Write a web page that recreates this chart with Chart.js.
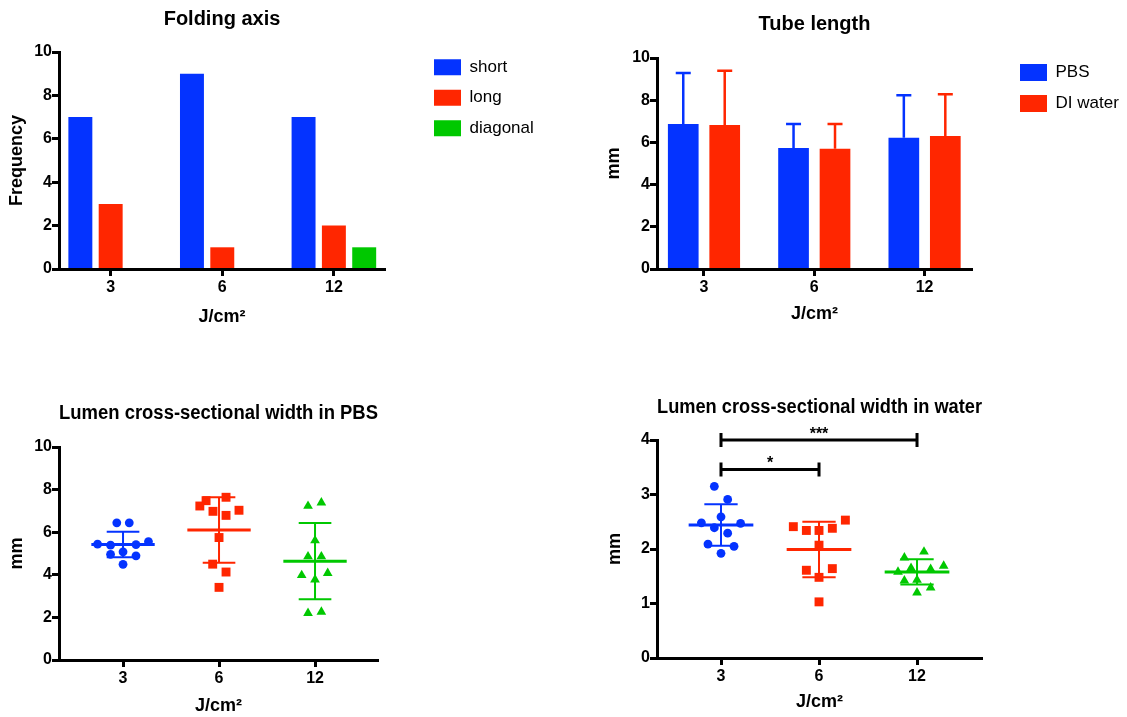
<!DOCTYPE html>
<html>
<head>
<meta charset="utf-8">
<title>Folding axis, tube length and lumen width</title>
<script src="https://cdn.jsdelivr.net/npm/chart.js@4.4.1/dist/chart.umd.min.js"></script>
<style>
  body { margin: 0; background: #fff; }
  #page { position: relative; width: 1127px; height: 717px; }
  canvas { position: absolute; }
</style>
</head>
<body>
<div id="page">
  <canvas id="folding" width="560" height="340" style="left:0;top:0"></canvas>
  <canvas id="tube" width="567" height="340" style="left:560px;top:0"></canvas>
  <canvas id="lumenPbs" width="560" height="347" style="left:0;top:370px"></canvas>
  <canvas id="lumenWater" width="567" height="347" style="left:560px;top:370px"></canvas>
</div>
<script>
const doses = ['3', '6', '12'];

// Folding axis (counts)
const foldShort = [7, 9, 7];
const foldLong = [3, 1, 2];
const foldDiagonal = [0, 0, 1];

// Tube length (mm), mean and upper SD
const tubePbs = [6.87, 5.73, 6.22];
const tubePbsSd = [2.42, 1.14, 2.02];
const tubeWater = [6.83, 5.70, 6.30];
const tubeWaterSd = [2.56, 1.17, 1.98];

// Lumen width in PBS (mm) + horizontal spread inside each group
const pbsWidth3 = [6.44, 6.44, 5.44, 5.39, 5.42, 5.56, 4.96, 5.08, 4.89, 4.49];
const pbsSpread3 = [-0.065, 0.065, -0.265, -0.13, 0.135, 0.265, -0.13, 0, 0.135, 0];
const pbsWidth6 = [7.48, 7.23, 7.64, 6.98, 6.79, 7.03, 5.75, 4.50, 4.13, 3.41];
const pbsSpread6 = [-0.135, -0.2, 0.073, -0.063, 0.073, 0.208, 0, -0.066, 0.073, 0];
const pbsWidth12 = [7.23, 7.39, 5.61, 4.86, 4.86, 3.98, 4.08, 3.77, 2.20, 2.26];
const pbsSpread12 = [-0.073, 0.066, 0, -0.073, 0.066, -0.139, 0.132, 0, -0.073, 0.066];
const pbsMean = [5.42, 6.10, 4.64];
const pbsSd = [0.60, 1.54, 1.79];

// Lumen width in water (mm)
const waterWidth3 = [3.15, 2.91, 2.59, 2.48, 2.47, 2.39, 2.29, 2.09, 2.05, 1.92];
const waterSpread3 = [-0.068, 0.068, 0, -0.2, 0.2, -0.068, 0.068, -0.133, 0.133, 0];
const waterWidth6 = [2.53, 2.41, 2.34, 2.34, 2.38, 2.07, 1.61, 1.64, 1.48, 1.03];
const waterSpread6 = [0.269, -0.262, -0.129, 0, 0.136, 0, -0.129, 0.136, 0, 0];
const waterWidth12 = [1.95, 1.84, 1.69, 1.65, 1.63, 1.58, 1.42, 1.43, 1.29, 1.20];
const waterSpread12 = [0.071, -0.129, 0.272, -0.061, 0.139, -0.194, -0.129, 0, 0.139, 0];
const waterMean = [2.44, 1.99, 1.58];
const waterSd = [0.38, 0.51, 0.23];

// significance brackets (water)
const sigFrom = [0, 0];
const sigTo = [2, 1];
const sigLevel = [4.0, 3.46];
const sigText = ['***', '*'];

const BLUE = '#0433ff';
const RED = '#ff2600';
const GREEN = '#00c800';
const FONT = "'Liberation Sans', Arial, Helvetica, sans-serif";

Chart.defaults.font.family = FONT;
Chart.defaults.color = '#000';
Chart.defaults.animation = false;

function yAxis(max, step, axisWidth, titleText, titlePad) {
    return {
        min: 0,
        max: max,
        ticks: { stepSize: step, padding: 0, font: { size: 16, weight: 'bold' } },
        grid: { drawOnChartArea: false, tickLength: 7, tickWidth: 3, tickColor: '#000' },
        border: { color: '#000', width: 3, z: 1 },
        title: { display: true, text: titleText, font: { size: 18, weight: 'bold' }, padding: { top: titlePad, bottom: 0 } },
        afterFit: (s) => { s.width = axisWidth; }
    };
}

function xAxis(min, max, axisHeight, titlePad) {
    return {
        type: 'linear',
        min: min,
        max: max,
        offset: false,
        afterBuildTicks: (s) => { s.ticks = doses.map((d, i) => ({ value: i })); },
        ticks: { padding: 2, font: { size: 16, weight: 'bold' }, callback: (v) => doses[v] },
        grid: { offset: false, drawOnChartArea: false, tickLength: 7, tickWidth: 3, tickColor: '#000' },
        border: { color: '#000', width: 3, z: 1 },
        title: { display: true, text: 'J/cm²', font: { size: 18, weight: 'bold' }, padding: { top: 0, bottom: titlePad } },
        afterFit: (s) => { s.height = axisHeight; }
    };
}

function titleOpts(text, top, bottom) {
    return { display: true, text: text, fullSize: false, font: { size: 20, weight: 'bold' }, padding: { top: top, bottom: bottom } };
}

// put the legend (drawn by chart.js) at a fixed place right of the plot
function legendAt(x, y) {
    return {
        id: 'legendAt',
        afterLayout(chart) {
            const lg = chart.legend;
            lg.left = x; lg.right = x + 200;
            lg.top = y; lg.bottom = y + 150;
        }
    };
}

function toXY(vals) {
    return vals.map((v, i) => ({ x: i, y: v }));
}

function spreadXY(vals, spread, cat) {
    return vals.map((v, k) => ({ x: cat + spread[k], y: v }));
}

// upward error bars with caps on top of bars
function errorBarsPlugin(sds) {
    return {
        id: 'errorBars',
        afterDatasetsDraw(chart) {
            const ctx = chart.ctx;
            const y = chart.scales.y;
            chart.data.datasets.forEach((ds, di) => {
                const meta = chart.getDatasetMeta(di);
                meta.data.forEach((bar, i) => {
                    const top = y.getPixelForValue(ds.data[i].y + sds[di][i]);
                    ctx.save();
                    ctx.strokeStyle = ds.backgroundColor;
                    ctx.lineWidth = 2.5;
                    ctx.beginPath();
                    ctx.moveTo(bar.x, bar.y);
                    ctx.lineTo(bar.x, top);
                    ctx.moveTo(bar.x - 7.5, top);
                    ctx.lineTo(bar.x + 7.5, top);
                    ctx.stroke();
                    ctx.restore();
                });
            });
        }
    };
}

// mean line + SD whiskers for dot plots
function meanSdPlugin(means, sds, colors) {
    return {
        id: 'meanSd',
        afterDatasetsDraw(chart) {
            const ctx = chart.ctx;
            const x = chart.scales.x, y = chart.scales.y;
            means.forEach((m, i) => {
                const xc = x.getPixelForValue(i);
                const xl = x.getPixelForValue(i - 0.33), xr = x.getPixelForValue(i + 0.33);
                const cl = x.getPixelForValue(i - 0.17), cr = x.getPixelForValue(i + 0.17);
                const ym = y.getPixelForValue(m);
                const yh = y.getPixelForValue(m + sds[i]), yl = y.getPixelForValue(m - sds[i]);
                ctx.save();
                ctx.strokeStyle = colors[i];
                ctx.lineWidth = 2;
                ctx.beginPath();
                ctx.moveTo(xc, yh); ctx.lineTo(xc, yl);
                ctx.moveTo(cl, yh); ctx.lineTo(cr, yh);
                ctx.moveTo(cl, yl); ctx.lineTo(cr, yl);
                ctx.stroke();
                ctx.lineWidth = 3;
                ctx.beginPath();
                ctx.moveTo(xl, ym); ctx.lineTo(xr, ym);
                ctx.stroke();
                ctx.restore();
            });
        }
    };
}

const bracketsPlugin = {
    id: 'brackets',
    afterDatasetsDraw(chart) {
        const ctx = chart.ctx;
        const x = chart.scales.x, y = chart.scales.y;
        sigLevel.forEach((lv, k) => {
            const x1 = x.getPixelForValue(sigFrom[k]);
            const x2 = x.getPixelForValue(sigTo[k]);
            const yy = y.getPixelForValue(lv);
            ctx.save();
            ctx.strokeStyle = '#000';
            ctx.lineWidth = 3;
            ctx.beginPath();
            ctx.moveTo(x1, yy); ctx.lineTo(x2, yy);
            ctx.moveTo(x1, yy - 7); ctx.lineTo(x1, yy + 7);
            ctx.moveTo(x2, yy - 7); ctx.lineTo(x2, yy + 7);
            ctx.stroke();
            ctx.fillStyle = '#000';
            ctx.font = 'bold 16px ' + FONT;
            ctx.textAlign = 'center';
            ctx.textBaseline = 'alphabetic';
            ctx.fillText(sigText[k], (x1 + x2) / 2, yy - 1.5);
            ctx.restore();
        });
    }
};

// ---- Folding axis ----
new Chart(document.getElementById('folding'), {
    type: 'bar',
    data: {
        datasets: [
            { label: 'short', data: toXY(foldShort), backgroundColor: BLUE, borderWidth: 0 },
            { label: 'long', data: toXY(foldLong), backgroundColor: RED, borderWidth: 0 },
            { label: 'diagonal', data: toXY(foldDiagonal), backgroundColor: GREEN, borderWidth: 0 }
        ]
    },
    options: {
        responsive: false,
        categoryPercentage: 0.815,
        barPercentage: 0.79,
        layout: { padding: { left: 0, top: 0, right: 175, bottom: 0 } },
        scales: {
            x: xAxis(-0.463, 2.458, 71, 12.2),
            y: yAxis(10, 2, 59, 'Frequency', 6.2)
        },
        plugins: {
            title: titleOpts('Folding axis', 7, 21),
            legend: {
                position: 'chartArea',
                align: 'start',
                labels: { boxWidth: 27, boxHeight: 16, padding: 13.5, color: '#000', font: { size: 17 } }
            },
            tooltip: { enabled: false }
        }
    },
    plugins: [legendAt(420.5, 45.3)]
});

// ---- Tube length ----
new Chart(document.getElementById('tube'), {
    type: 'bar',
    data: {
        datasets: [
            { label: 'PBS', data: toXY(tubePbs), backgroundColor: BLUE, borderWidth: 0 },
            { label: 'DI water', data: toXY(tubeWater), backgroundColor: RED, borderWidth: 0 }
        ]
    },
    options: {
        responsive: false,
        categoryPercentage: 0.752,
        barPercentage: 0.74,
        layout: { padding: { left: 0, top: 0, right: 155, bottom: 0 } },
        scales: {
            x: xAxis(-0.426, 2.43, 71, 15.2),
            y: yAxis(10, 2, 97, 'mm', 43.7)
        },
        plugins: {
            title: titleOpts('Tube length', 12, 22),
            legend: {
                position: 'chartArea',
                align: 'start',
                labels: { boxWidth: 27, boxHeight: 17, padding: 14, color: '#000', font: { size: 17 } }
            },
            tooltip: { enabled: false }
        }
    },
    plugins: [legendAt(446, 50), errorBarsPlugin([tubePbsSd, tubeWaterSd])]
});

// ---- Lumen width in PBS ----
function dotSets(g3, s3, g6, s6, g12, s12) {
    return [
        { data: spreadXY(g3, s3, 0), pointStyle: 'circle', pointRadius: 4.4, backgroundColor: BLUE, borderWidth: 0 },
        { data: spreadXY(g6, s6, 1), pointStyle: 'rect', pointRadius: 6.3, backgroundColor: RED, borderWidth: 0 },
        { data: spreadXY(g12, s12, 2), pointStyle: 'triangle', pointRadius: 5.6, backgroundColor: GREEN, borderWidth: 0 }
    ];
}

new Chart(document.getElementById('lumenPbs'), {
    type: 'scatter',
    data: { datasets: dotSets(pbsWidth3, pbsSpread3, pbsWidth6, pbsSpread6, pbsWidth12, pbsSpread12) },
    options: {
        responsive: false,
        layout: { padding: { left: 0, top: 0, right: 182, bottom: 0 } },
        scales: {
            x: xAxis(-0.667, 2.656, 57, 0.2),
            y: yAxis(10, 2, 59, 'mm', 5.9)
        },
        plugins: {
            title: titleOpts('Lumen cross-sectional width in PBS', 31, 22),
            legend: { display: false },
            tooltip: { enabled: false }
        }
    },
    plugins: [meanSdPlugin(pbsMean, pbsSd, [BLUE, RED, GREEN])]
});

// ---- Lumen width in water ----
new Chart(document.getElementById('lumenWater'), {
    type: 'scatter',
    data: { datasets: dotSets(waterWidth3, waterSpread3, waterWidth6, waterSpread6, waterWidth12, waterSpread12) },
    options: {
        responsive: false,
        layout: { padding: { left: 0, top: 0, right: 145, bottom: 0 } },
        scales: {
            x: xAxis(-0.653, 2.663, 59, 4.5),
            y: yAxis(4, 1, 97, 'mm', 44.2)
        },
        plugins: {
            title: titleOpts('Lumen cross-sectional width in water', 25, 21),
            legend: { display: false },
            tooltip: { enabled: false }
        }
    },
    plugins: [meanSdPlugin(waterMean, waterSd, [BLUE, RED, GREEN]), bracketsPlugin]
});
</script>
</body>
</html>
